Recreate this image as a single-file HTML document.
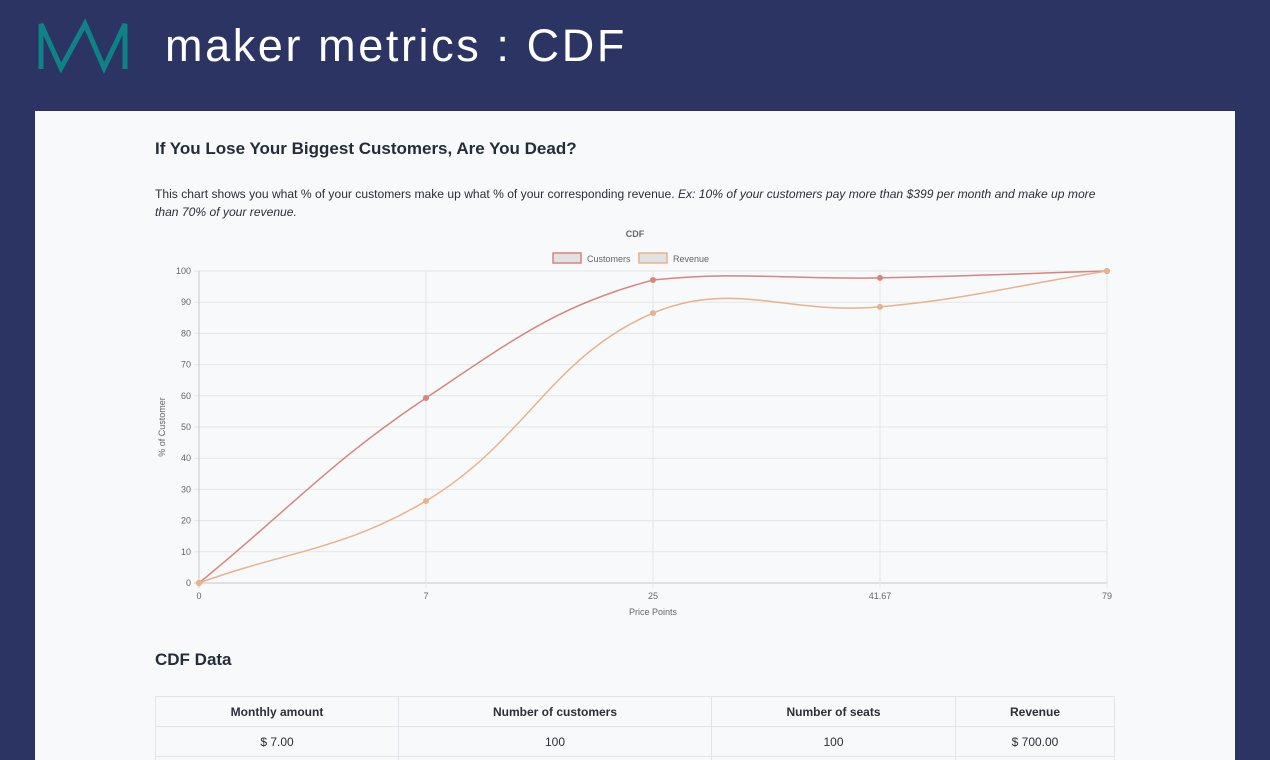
<!DOCTYPE html>
<html style="width:1270px;height:760px;overflow:hidden"><head><meta charset="utf-8"><style>
*{margin:0;padding:0;box-sizing:border-box}
body{width:1270px;height:760px;overflow:hidden;background:#2b3463;font-family:"Liberation Sans",sans-serif;position:relative}
.header{position:absolute;left:0;top:0;width:1270px;height:111px}
.title{position:absolute;left:165px;top:20px;color:#fff;font-size:45px;letter-spacing:2.6px;white-space:nowrap}
.card{position:absolute;left:35px;top:111px;width:1200px;height:649px;background:#f7f9fb;overflow:hidden}
h2{position:absolute;left:120px;font-size:17px;color:#262b3a;font-weight:bold}
p{position:absolute;left:120px;top:74px;width:955px;font-size:12.1px;line-height:18px;color:#2c2f38}
table{position:absolute;left:120px;top:585px;width:960px;border-collapse:collapse;font-size:12px;color:#2c2f38}
td,th{border:1px solid #e1e4ea;height:30px;text-align:center}
th{font-weight:bold}
</style></head><body>
<div class="header">
<svg style="position:absolute;left:0;top:0" width="140" height="90">
<polyline points="41,69 41,24 61,68 85,24 104,68 125,24 125,69" fill="none" stroke="#0e8287" stroke-width="5" stroke-linejoin="miter"/>
</svg>
<div class="title">maker metrics : CDF</div>
</div>
<div class="card">
<h2 style="top:28px">If You Lose Your Biggest Customers, Are You Dead?</h2>
<p>This chart shows you what % of your customers make up what % of your corresponding revenue. <i>Ex: 10% of your customers pay more than $399 per month and make up more than 70% of your revenue.</i></p>
<svg id="chart" style="position:absolute;left:0;top:0" width="1200" height="520"></svg>
<h2 style="top:539px">CDF Data</h2>
<table>
<tr><th style="width:243px">Monthly amount</th><th style="width:313px">Number of customers</th><th style="width:244px">Number of seats</th><th>Revenue</th></tr>
<tr><td>$ 7.00</td><td>100</td><td>100</td><td>$ 700.00</td></tr>
<tr><td>&nbsp;</td><td></td><td></td><td></td></tr>
</table>
</div>
<script>
const categories=["0","7","25","41.67","79"];
const customers=[0,59.3,97.1,97.8,100];
const revenue=[0,26.3,86.5,88.5,100];
const yTicks=[0,10,20,30,40,50,60,70,80,90,100];
const svg=document.getElementById('chart');
const NS='http://www.w3.org/2000/svg';
const L=164,R=1072,T=160,B=472;
const xs=i=>L+i*(R-L)/(categories.length-1);
const ys=v=>B-v/100*(B-T);
function el(tag,attrs,text){const e=document.createElementNS(NS,tag);for(const k in attrs)e.setAttribute(k,attrs[k]);if(text!==undefined)e.textContent=text;svg.appendChild(e);return e;}
yTicks.forEach(t=>{
 const g=el('line',{x1:L-5,x2:R,y1:ys(t),y2:ys(t),stroke:t===0?'#c8c8c8':'#e6e6e6','stroke-width':1});
 
 
 const tx=el('text',{x:L-8,y:ys(t)+3,'text-anchor':'end','font-size':9,fill:'#666','font-family':'Liberation Sans'},t);
 
 
});
categories.forEach((c,i)=>{
 const g=el('line',{x1:xs(i),x2:xs(i),y1:T,y2:B+5,stroke:i===0?'#c8c8c8':'#e6e6e6','stroke-width':1});
 
 
 const tx=el('text',{x:xs(i),y:B+16,'text-anchor':'middle','font-size':9,fill:'#666','font-family':'Liberation Sans'},c);
 
 
});
let t1=el('text',{x:(L+R)/2,y:504,'text-anchor':'middle','font-size':9,fill:'#666','font-family':'Liberation Sans'},'Price Points');


let t2=el('text',{x:0,y:0,'text-anchor':'middle','font-size':9,fill:'#666','font-family':'Liberation Sans',transform:`translate(130,${(T+B)/2}) rotate(-90)`},'% of Customer');


let t3=el('text',{x:600,y:126,'text-anchor':'middle','font-size':9,'font-weight':'bold',fill:'#666','font-family':'Liberation Sans'},'CDF');


const cap=y=>Math.max(T,Math.min(B,y));
function spline(vals){
 const p=vals.map((v,i)=>[xs(i),ys(v)]);const tn=0.4;const cps=[];
 for(let i=0;i<p.length;i++){const a=p[Math.max(0,i-1)],b=p[i],c=p[Math.min(p.length-1,i+1)];
  const d01=Math.hypot(b[0]-a[0],b[1]-a[1]),d12=Math.hypot(c[0]-b[0],c[1]-b[1]);
  let fa=d01/(d01+d12)||0,fb=d12/(d01+d12)||0;fa*=tn;fb*=tn;
  cps.push({p:[b[0]-fa*(c[0]-a[0]),cap(b[1]-fa*(c[1]-a[1]))],n:[b[0]+fb*(c[0]-a[0]),cap(b[1]+fb*(c[1]-a[1]))]});}
 let d=`M${p[0][0]},${p[0][1]}`;
 for(let i=1;i<p.length;i++)d+=` C${cps[i-1].n[0]},${cps[i-1].n[1]} ${cps[i].p[0]},${cps[i].p[1]} ${p[i][0]},${p[i][1]}`;
 return d;}
[[customers,'#d9847c','customers'],[revenue,'#e8b38a','revenue']].forEach(([vals,col,nm])=>{
 const pa=el('path',{d:spline(vals),fill:'none',stroke:col,'stroke-width':1.5});
 
 
 vals.forEach((v,i)=>{const c=el('circle',{cx:xs(i),cy:ys(v),r:2.5,fill:col,stroke:col});
  
  });
});
[['Customers','#d9847c',518],['Revenue','#e8b38a',604]].forEach(([n,col,x])=>{
 const r=el('rect',{x:x,y:142,width:28,height:10,fill:'#e2e2e2',stroke:col,'stroke-width':1.5});
 
 
 const t=el('text',{x:x+34,y:151,'font-size':9,fill:'#666','font-family':'Liberation Sans'},n);
 
 
});
</script>
</body></html>
